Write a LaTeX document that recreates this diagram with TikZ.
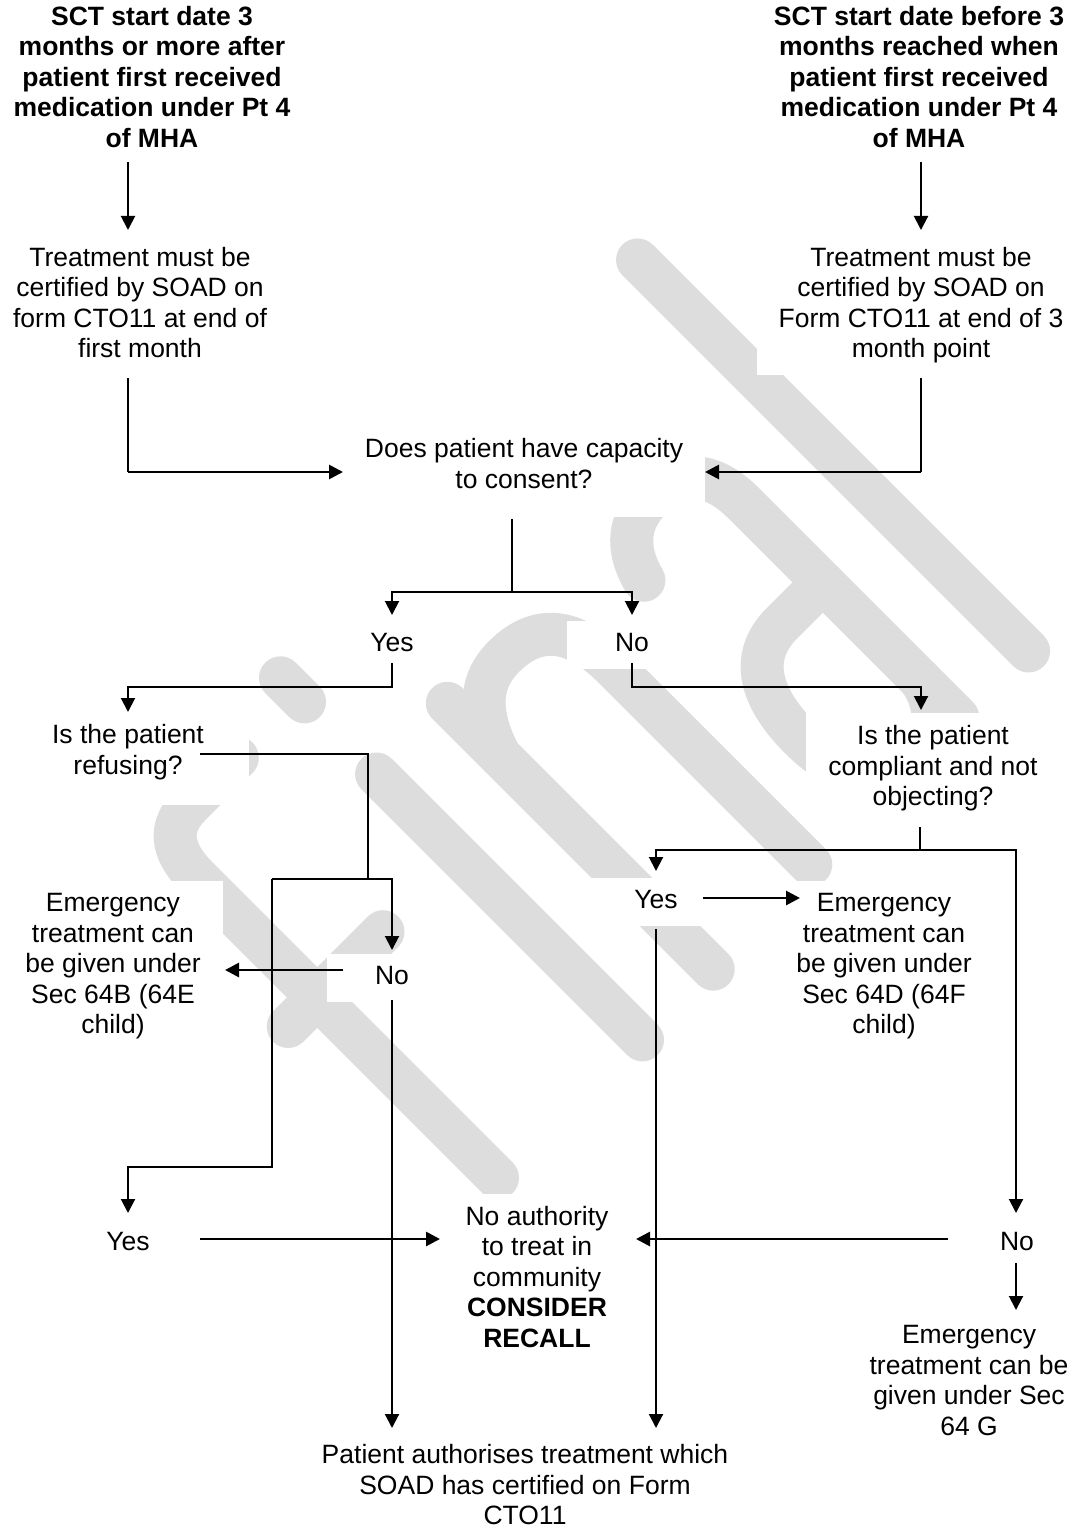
\documentclass[tikz,border=0pt]{standalone}
\usepackage{fontspec}
\setmainfont{Liberation Sans}
\usetikzlibrary{arrows.meta}
\definecolor{wmark}{RGB}{221,221,221}
\begin{document}
\begin{tikzpicture}[x=1pt,y=-1pt,
  txt/.style={font=\fontsize{26.5}{30.5}\selectfont, align=center, fill=white,
    inner xsep=22pt, inner ysep=12pt,
    execute at begin node=\strut, execute at end node=\strut},
  hd/.style={txt, font=\fontsize{26.5}{30.5}\selectfont\bfseries, inner ysep=4pt},
  yn/.style={txt, inner xsep=48pt, inner ysep=9pt},
  ln/.style={line width=2pt},
  arr/.style={ln, -{Triangle[length=14pt,width=14pt]}},
  tarr/.style={arr, line width=2.8pt},
  wm/.style={draw=wmark, line width=43pt, line cap=round, line join=round}]

\useasboundingbox (0,0) rectangle (1073,1530);
\fill[white] (0,0) rectangle (1073,1530);

% watermark "final", set along a 45 degree baseline
\begin{scope}[shift={(852.5pt,-852.5pt)}, x={(0.7071pt,0.7071pt)}, y={(-0.7071pt,0.7071pt)}]
  % f
  \draw[wm] (-481,21) -- (-481,445) .. controls (-481,485) and (-465,502) .. (-435,502) -- (-368,502);
  \draw[wm] (-522,276) -- (-388,276);
  % i
  \draw[wm] (-281,16) -- (-281,392);
  \draw[wm] (-281,494) -- (-281,528);
  % n
  \draw[wm] (-181,16) -- (-181,392);
  \draw[wm] (-181,318) .. controls (-165,368) and (-140,385) .. (-108,385)
            .. controls (-60,385) and (-38,355) .. (-38,300) -- (-38,21);
  % a
  \draw[wm] (45,340) .. controls (55,378) and (78,393) .. (108,393)
            .. controls (148,393) and (170,370) .. (170,325) -- (170,21);
  \draw[wm] (170,212) -- (112,212) .. controls (68,212) and (44,180) .. (44,118)
            .. controls (44,55) and (72,21) .. (108,21) .. controls (140,21) and (165,42) .. (170,75);
  % l
  \draw[wm] (267,18) -- (267,571);
\end{scope}

% text boxes
\node[hd] (topL) at (152,81) {SCT start date 3\\months or more after\\patient first received\\medication under Pt 4\\of MHA};
\node[hd] (topR) at (919,81) {SCT start date before 3\\months reached when\\patient first received\\medication under Pt 4\\of MHA};
\node[txt, inner ysep=8pt] (certL) at (140,307) {Treatment must be\\certified by SOAD on\\form CTO11 at end of\\first month};
\node[txt, inner ysep=8pt] (certR) at (921,307) {Treatment must be\\certified by SOAD on\\Form CTO11 at end of 3\\month point};
\node[txt, inner ysep=20pt] (cap) at (524,468) {Does patient have capacity\\to consent?};
\node[yn] (yes1) at (392,645) {Yes};
\node[yn] (no1) at (632,645) {No};
\node[txt, inner xsep=45pt, inner ysep=22pt] (refuse) at (128,754) {Is the patient\\refusing?};
\node[txt] (comply) at (933,770) {Is the patient\\compliant and not\\objecting?};
\node[yn] (no2) at (392,978) {No};
\node[txt] (emB) at (113,968) {Emergency\\treatment can\\be given under\\Sec 64B (64E\\child)};
\node[yn] (yes2) at (656,902) {Yes};
\node[txt] (emD) at (884,968) {Emergency\\treatment can\\be given under\\Sec 64D (64F\\child)};
\node[yn] (yes3) at (128,1244) {Yes};
\node[txt] (noauth) at (537,1281) {No authority\\to treat in\\community\\\textbf{CONSIDER}\\\textbf{RECALL}};
\node[yn] (no3) at (1017,1244) {No};
\node[txt] (emG) at (969,1385) {Emergency\\treatment can be\\given under Sec\\64 G};
\node[txt] (pat) at (525,1489) {Patient authorises treatment which\\SOAD has certified on Form\\CTO11};

% connector end points
\coordinate (topL-out) at (128,162);   \coordinate (certL-in) at (128,230);
\coordinate (topR-out) at (921,162);   \coordinate (certR-in) at (921,230);
\coordinate (certL-out) at (128,378);  \coordinate (certL-turn) at (128,472); \coordinate (capL-in) at (343,472);
\coordinate (certR-out) at (921,378);  \coordinate (certR-turn) at (921,472); \coordinate (capR-in) at (705,472);
\coordinate (cap-out) at (512,519);    \coordinate (split1) at (512,592);
\coordinate (yes1-in) at (392,615);    \coordinate (no1-in) at (632,615);
\coordinate (yes1-out) at (392,663);   \coordinate (yes1-turn) at (392,687); \coordinate (refuse-in) at (128,712);
\coordinate (no1-out) at (632,663);    \coordinate (no1-turn) at (632,687);  \coordinate (comply-in) at (921,710);
\coordinate (refuse-out) at (200,754); \coordinate (join1) at (368,879);
\coordinate (split2) at (272,879);     \coordinate (no2-in) at (392,950);
\coordinate (yes3-turn) at (128,1167); \coordinate (yes3-in) at (128,1213);
\coordinate (no2-left) at (343,970);   \coordinate (emB-in) at (225,970);
\coordinate (no2-out) at (392,1000);   \coordinate (patL-in) at (392,1428);
\coordinate (comply-out) at (920,827); \coordinate (split3) at (920,850);
\coordinate (yes2-in) at (656,871);    \coordinate (no3-in) at (1016,1213);
\coordinate (yes2-right) at (703,898); \coordinate (emD-in) at (800,898);
\coordinate (yes2-out) at (656,929);   \coordinate (patR-in) at (656,1428);
\coordinate (yes3-out) at (200,1239);  \coordinate (noauthL-in) at (440,1239);
\coordinate (no3-left) at (948,1239);  \coordinate (noauthR-in) at (636,1239);
\coordinate (no3-out) at (1016,1263);  \coordinate (emG-in) at (1016,1310);

% connectors
\draw[arr] (topL-out) -- (certL-in);
\draw[arr] (topR-out) -- (certR-in);
\draw[ln] (certL-out) -- (certL-turn);
\draw[tarr] (certL-turn) -- (capL-in);
\draw[ln] (certR-out) -- (certR-turn);
\draw[tarr] (certR-turn) -- (capR-in);
\draw[ln] (cap-out) -- (split1);
\draw[arr] (split1) -| (yes1-in);
\draw[arr] (split1) -| (no1-in);
\draw[arr] (yes1-out) -- (yes1-turn) -| (refuse-in);
\draw[arr] (no1-out) -- (no1-turn) -| (comply-in);
\draw[ln] (refuse-out) -| (join1);
\draw[arr] (split2) -| (no2-in);
\draw[arr] (split2) |- (yes3-turn) -- (yes3-in);
\draw[tarr] (no2-left) -- (emB-in);
\draw[arr] (no2-out) -- (patL-in);
\draw[ln] (comply-out) -- (split3);
\draw[arr] (split3) -| (yes2-in);
\draw[arr] (split3) -| (no3-in);
\draw[tarr] (yes2-right) -- (emD-in);
\draw[arr] (yes2-out) -- (patR-in);
\draw[tarr] (yes3-out) -- (noauthL-in);
\draw[tarr] (no3-left) -- (noauthR-in);
\draw[arr] (no3-out) -- (emG-in);
\end{tikzpicture}
\end{document}
